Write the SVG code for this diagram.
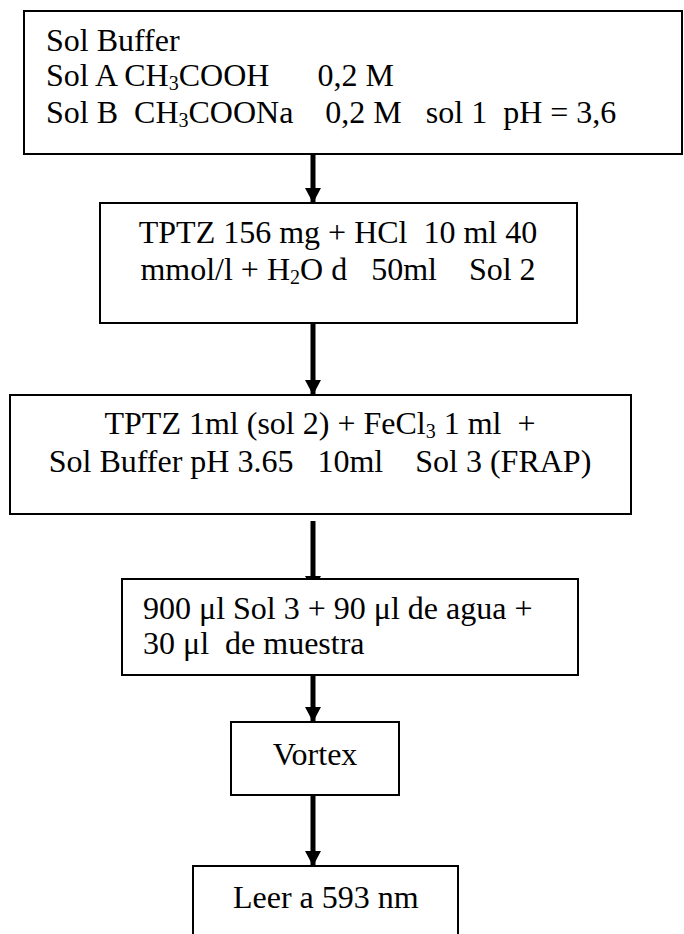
<svg xmlns="http://www.w3.org/2000/svg" width="684" height="934" viewBox="0 0 684 934">
<style>
.box{fill:#fff;stroke:#000;stroke-width:2}
text{font-family:'Liberation Serif','Times New Roman',Times,serif;font-size:32px;fill:#000}
.c{text-anchor:middle}
.sub{font-size:20px}
.con{stroke:#000;stroke-width:5;fill:none}
</style>
<defs>
<marker id="ah" markerUnits="userSpaceOnUse" markerWidth="16" markerHeight="17" refX="15" refY="8" orient="auto" overflow="visible">
<path d="M0,0 L15,8 L0,16 Z" fill="#000"/>
</marker>
</defs>
<g id="connectors">
<line class="con" x1="313" y1="155" x2="313" y2="203" marker-end="url(#ah)"/>
<line class="con" x1="313" y1="324" x2="313" y2="395" marker-end="url(#ah)"/>
<line class="con" x1="313" y1="521" x2="313" y2="591" marker-end="url(#ah)"/>
<line class="con" x1="313" y1="676" x2="313" y2="722" marker-end="url(#ah)"/>
<line class="con" x1="313" y1="796" x2="313" y2="866" marker-end="url(#ah)"/>
</g>
<g id="n1">
<rect class="box" x="24" y="11" width="658" height="143"/>
<text x="46" y="51" xml:space="preserve">Sol Buffer</text>
<text x="46" y="86" xml:space="preserve">Sol A CH<tspan class="sub" dy="4">3</tspan><tspan dy="-4">COOH      0,2 M</tspan></text>
<text x="46" y="123" xml:space="preserve">Sol B  CH<tspan class="sub" dy="4">3</tspan><tspan dy="-4">COONa    0,2 M   sol 1  pH = 3,6</tspan></text>
</g>
<g id="n2">
<rect class="box" x="100" y="203" width="477" height="120"/>
<text class="c" x="338" y="243" xml:space="preserve">TPTZ 156 mg + HCl  10 ml 40</text>
<text class="c" x="338" y="280" xml:space="preserve">mmol/l + H<tspan class="sub" dy="4">2</tspan><tspan dy="-4">O d   50ml    Sol 2</tspan></text>
</g>
<g id="n3">
<rect class="box" x="10" y="395" width="621" height="119"/>
<text class="c" x="320" y="434" xml:space="preserve">TPTZ 1ml (sol 2) + FeCl<tspan class="sub" dy="4">3</tspan><tspan dy="-4"> 1 ml  +</tspan></text>
<text class="c" x="320" y="472" xml:space="preserve">Sol Buffer pH 3.65   10ml    Sol 3 (FRAP)</text>
</g>
<g id="n4">
<rect class="box" x="122" y="579" width="456" height="96"/>
<text x="143" y="619" xml:space="preserve">900 μl Sol 3 + 90 μl de agua +</text>
<text x="143" y="654" xml:space="preserve">30 μl  de muestra</text>
</g>
<g id="n5">
<rect class="box" x="231" y="722" width="168" height="73"/>
<text class="c" x="315" y="765">Vortex</text>
</g>
<g id="n6">
<rect class="box" x="193" y="866" width="265" height="80"/>
<text x="233" y="908">Leer a 593 nm</text>
</g>
</svg>
